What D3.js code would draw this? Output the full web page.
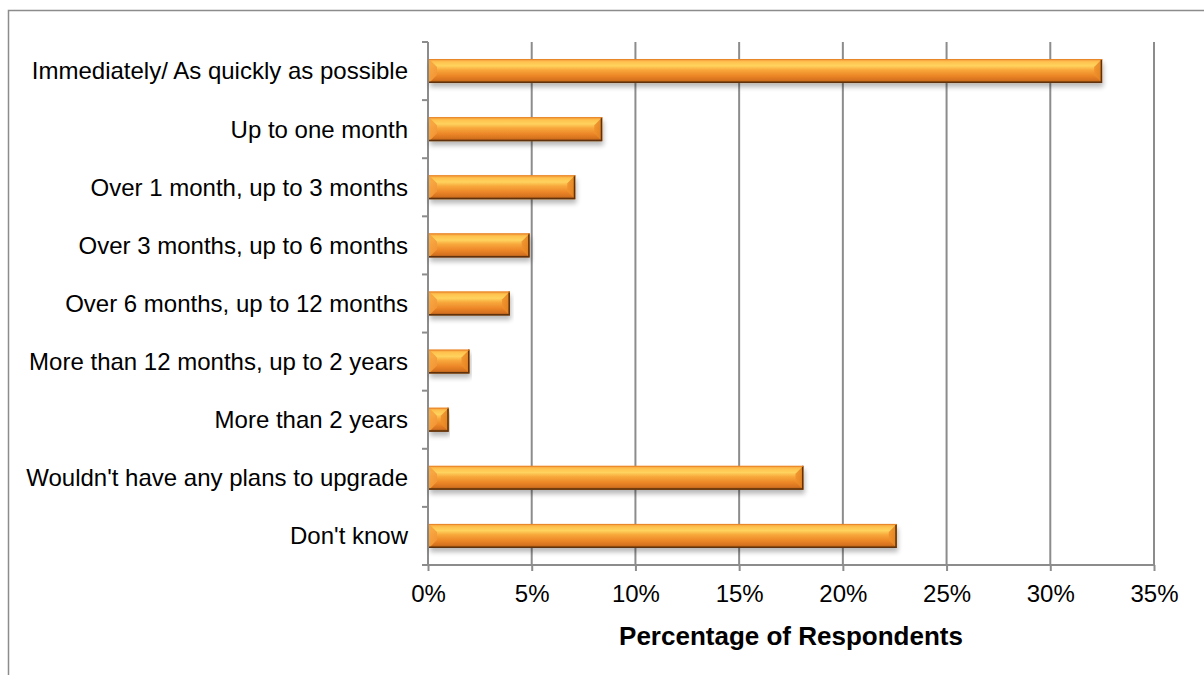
<!DOCTYPE html>
<html>
<head>
<meta charset="utf-8">
<script src="https://cdn.jsdelivr.net/npm/d3@7/dist/d3.min.js"></script>
<style>
  html, body { margin: 0; padding: 0; background: #fff; }
  svg { display: block; font-family: "Liberation Sans", Arial, sans-serif; }
</style>
</head>
<body>
<svg id="chart" width="1204" height="675"></svg>
<script>
// Time frame for upgrading, share of respondents (%)
const categories = [
  "Immediately/ As quickly as possible",
  "Up to one month",
  "Over 1 month, up to 3 months",
  "Over 3 months, up to 6 months",
  "Over 6 months, up to 12 months",
  "More than 12 months, up to 2 years",
  "More than 2 years",
  "Wouldn't have any plans to upgrade",
  "Don't know"
];
const values = [32.5, 8.4, 7.1, 4.9, 3.95, 2.0, 1.0, 18.1, 22.6];
const xTicks = [0, 5, 10, 15, 20, 25, 30, 35];
const xTitle = "Percentage of Respondents";

const svg = d3.select("#chart");
const margin = { left: 428, top: 42 };
const plotRight = 1154, plotBottom = 565;

// outer frame
svg.append("rect")
  .attr("x", 8.5).attr("y", 10.5)
  .attr("width", 1300).attr("height", 800)
  .attr("fill", "none").attr("stroke", "#8c8c8c").attr("stroke-width", 1.5);

const x = d3.scaleLinear().domain([0, 35]).range([margin.left, plotRight]);
const y = d3.scaleBand().domain(categories).range([margin.top, plotBottom]).paddingInner(0).paddingOuter(0);

const defs = svg.append("defs");
const gV = defs.append("linearGradient").attr("id", "barV").attr("x1", 0).attr("y1", 0).attr("x2", 0).attr("y2", 1);
[[0, "#f39a3a"], [0.12, "#ffc24e"], [0.28, "#ffd35e"], [0.45, "#f8a83c"], [0.7, "#ec8627"], [0.88, "#d67220"], [1, "#9a5414"]]
  .forEach(([o, c]) => gV.append("stop").attr("offset", o).attr("stop-color", c));
const gL = defs.append("linearGradient").attr("id", "barL").attr("x1", 0).attr("y1", 0).attr("x2", 1).attr("y2", 0);
[[0, "#f8a43e"], [1, "#f3983a"]].forEach(([o, c]) => gL.append("stop").attr("offset", o).attr("stop-color", c));
const gR = defs.append("linearGradient").attr("id", "barR").attr("x1", 0).attr("y1", 0).attr("x2", 1).attr("y2", 0);
[[0, "#f0922e"], [1, "#e0801f"]].forEach(([o, c]) => gR.append("stop").attr("offset", o).attr("stop-color", c));
const shadow = defs.append("filter").attr("id", "shadow").attr("x", "-5%").attr("y", "-30%").attr("width", "110%").attr("height", "180%");
shadow.append("feGaussianBlur").attr("in", "SourceAlpha").attr("stdDeviation", 2.5).attr("result", "b");
shadow.append("feOffset").attr("in", "b").attr("dx", 1).attr("dy", 4).attr("result", "o");
shadow.append("feComponentTransfer").attr("in", "o").attr("result", "s")
  .append("feFuncA").attr("type", "linear").attr("slope", 0.28);
const fm = shadow.append("feMerge");
fm.append("feMergeNode").attr("in", "s");
fm.append("feMergeNode").attr("in", "SourceGraphic");

// vertical gridlines
svg.append("g").selectAll("line").data(xTicks.slice(1)).join("line")
  .attr("x1", d => x(d)).attr("x2", d => x(d))
  .attr("y1", margin.top).attr("y2", plotBottom)
  .attr("stroke", "#8c8c8c").attr("stroke-width", 2);

// x axis
const xAxis = svg.append("g").attr("transform", `translate(0,${plotBottom})`)
  .call(d3.axisBottom(x).tickValues(xTicks).tickFormat(d => d + "%").tickSize(6).tickPadding(14).tickSizeOuter(0));
xAxis.select(".domain").attr("stroke", "#8c8c8c").attr("stroke-width", 2)
  .attr("d", `M${margin.left - 6},0H${plotRight}`);
xAxis.selectAll(".tick line").attr("stroke", "#8c8c8c").attr("stroke-width", 2);
xAxis.selectAll(".tick text").attr("font-size", 24).attr("fill", "#000")
  .style("font-family", "'Liberation Sans', Arial, sans-serif");

// y axis: line with ticks at band boundaries
const yG = svg.append("g");
yG.append("line").attr("x1", margin.left).attr("x2", margin.left)
  .attr("y1", margin.top).attr("y2", plotBottom).attr("stroke", "#8c8c8c").attr("stroke-width", 2);
const bounds = categories.map(c => y(c)).concat([plotBottom]);
yG.selectAll("line.t").data(bounds).join("line").attr("class", "t")
  .attr("x1", margin.left - 6).attr("x2", margin.left)
  .attr("y1", d => d).attr("y2", d => d)
  .attr("stroke", "#8c8c8c").attr("stroke-width", 2);
yG.selectAll("text").data(categories).join("text")
  .attr("x", 408).attr("y", d => y(d) + y.bandwidth() / 2)
  .attr("dy", "0.35em").attr("text-anchor", "end")
  .attr("font-size", 24).attr("fill", "#000").text(d => d);

// bevelled bars
const barH = 24;
const bev = 8;
const bars = svg.append("g").selectAll("g").data(categories.map((c, i) => ({ c, v: values[i] }))).join("g")
  .attr("filter", "url(#shadow)")
  .attr("transform", d => `translate(${x(0) + 1},${y(d.c) + (y.bandwidth() - barH) / 2})`);
bars.append("rect")
  .attr("width", d => x(d.v) - x(0) - 1).attr("height", barH)
  .attr("fill", "url(#barV)");
bars.append("path")
  .attr("d", d => {
    const w = x(d.v) - x(0) - 1, b = Math.min(bev, w / 2);
    return `M0,0L${b},${b}L${b},${barH - b}L0,${barH}Z`;
  })
  .attr("fill", "url(#barL)").attr("opacity", 0.85);
bars.append("path")
  .attr("d", d => {
    const w = x(d.v) - x(0) - 1, b = Math.min(bev, w / 2);
    return `M${w},0L${w - b},${b}L${w - b},${barH - b}L${w},${barH}Z`;
  })
  .attr("fill", "url(#barR)").attr("opacity", 0.9);
// dark edge on right and bottom
bars.append("path")
  .attr("d", d => {
    const w = x(d.v) - x(0) - 1;
    return `M${w - 0.75},0V${barH - 0.75}H0`;
  })
  .attr("fill", "none").attr("stroke", "#5e3008").attr("stroke-width", 1.5);
// light edge on top
bars.append("path")
  .attr("d", d => `M0,0.5H${x(d.v) - x(0) - 1}`)
  .attr("stroke", "#e8862a").attr("stroke-width", 1);

// axis title
svg.append("text")
  .attr("x", (x(0) + x(35)) / 2).attr("y", 645)
  .attr("text-anchor", "middle").attr("font-size", 26).attr("font-weight", "bold")
  .attr("fill", "#000").text(xTitle);
</script>
</body>
</html>
